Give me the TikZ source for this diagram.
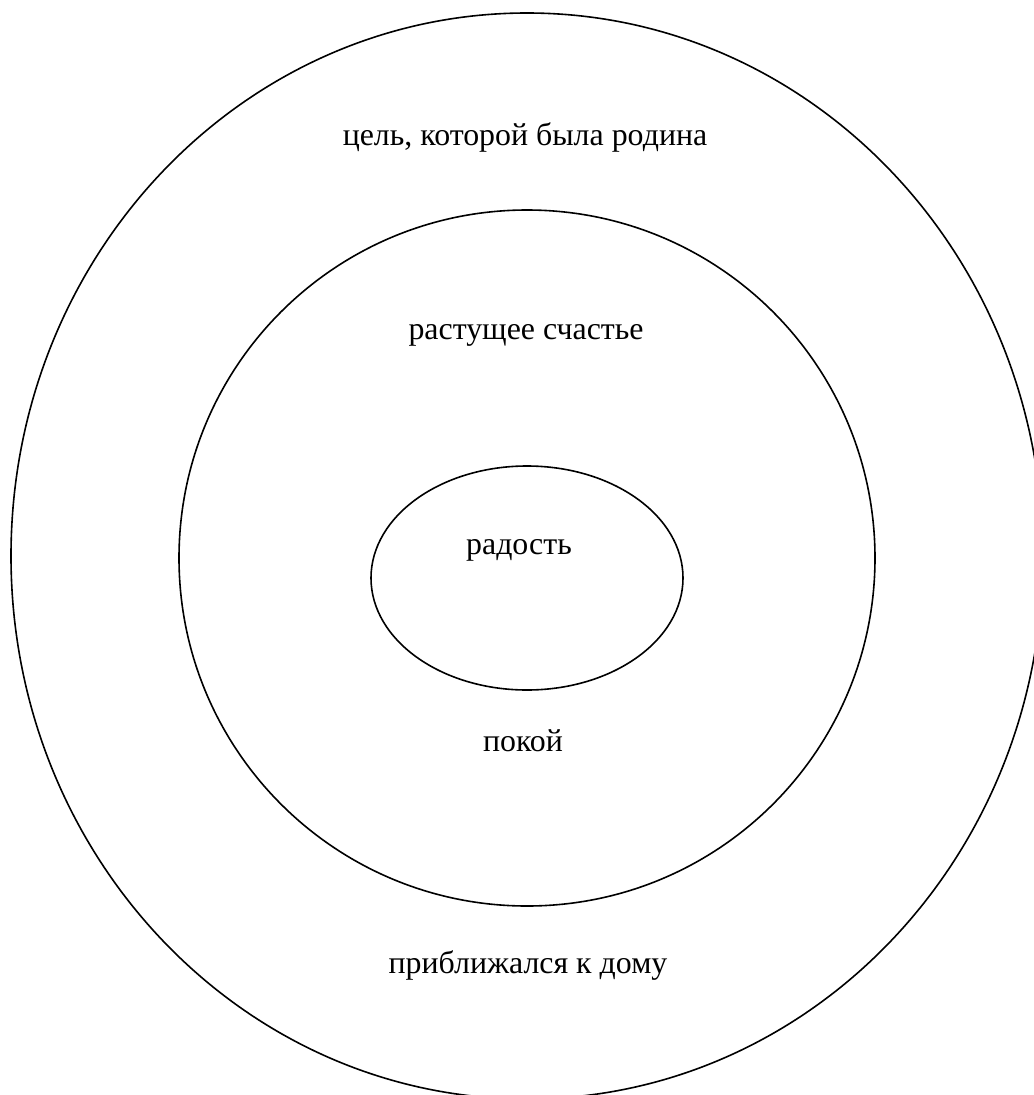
\documentclass[tikz,border=0pt]{standalone}
\usepackage{fontspec}
\setmainfont{Liberation Serif}
\begin{document}
\begin{tikzpicture}[x=1bp,y=-1bp,
  ring/.style={draw=black,line width=1.6bp},
  lbl/.style={font=\fontsize{32}{36}\selectfont,inner sep=0pt,anchor=base}]
\useasboundingbox (0,0) rectangle (1034,1095);
\begin{scope}
\clip (0,0) rectangle (1034,1095);
\draw[ring] (527,556) ellipse [x radius=516, y radius=543];
\end{scope}
\draw[ring] (527,558) ellipse [x radius=348, y radius=348];
\draw[ring] (527,578) ellipse [x radius=156, y radius=112];
\node[lbl] (t1) at (525,145) {цель, которой была родина};
\node[lbl] (t2) at (526,339) {растущее счастье};
\node[lbl] (t3) at (519,554) {радость};
\node[lbl] (t4) at (523,751) {покой};
\node[lbl] (t5) at (528,973) {приближался к дому};
\end{tikzpicture}
\end{document}
